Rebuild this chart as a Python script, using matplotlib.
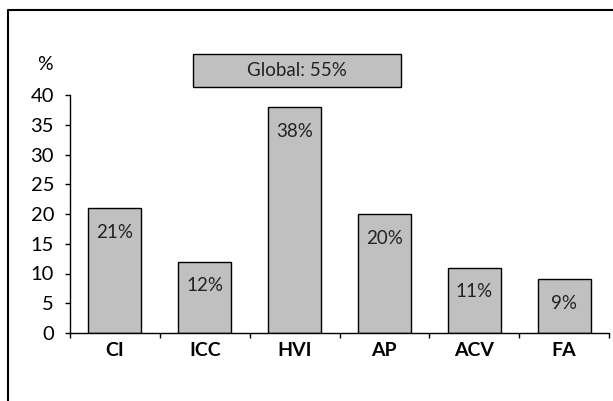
import matplotlib.pyplot as plt
import numpy as np
from matplotlib.lines import Line2D
from matplotlib.patches import Rectangle

# data
categories = ["CI", "ICC", "HVI", "AP", "ACV", "FA"]
values = [21, 12, 38, 20, 11, 9]
global_label = "Global: 55%"

plt.rcParams['font.family'] = ['Lato', 'DejaVu Sans']

fig = plt.figure(figsize=(6.13, 4.01), dpi=100)
ax = fig.add_axes([70/613, 1 - 333/401, 539/613, 238/401])

x = np.arange(len(categories))
ax.bar(x, values, width=0.59, color="#c0c0c0", edgecolor="black", linewidth=1)

for xi, v in zip(x, values):
    ax.annotate(f"{v}%", (xi, v), xytext=(0, -17.5), textcoords="offset points",
                ha="center", va="center", fontsize=13.5, color="#222222")

ax.set_xlim(-0.5, len(categories) - 0.5)
ax.set_ylim(0, 40)
ax.set_yticks(range(0, 41, 5))
ax.tick_params(axis="y", labelsize=14.5, length=3.5, width=1, direction="out", pad=8)

# x ticks at category boundaries, labels centred under bars
ax.set_xticks(np.arange(-0.5, len(categories)))
ax.set_xticklabels([])
ax.tick_params(axis="x", length=3.5, width=1, direction="out")
for xi, c in zip(x, categories):
    ax.text(xi, -0.075, c, transform=ax.get_xaxis_transform(), ha="center", va="center",
            fontsize=14, fontweight="bold")

for s in ["top", "right"]:
    ax.spines[s].set_visible(False)
for s in ["left", "bottom"]:
    ax.spines[s].set_linewidth(1)

fig.text(45/613, 1 - 64/401, "%", ha="center", va="center", fontsize=14)

# global box
fig.patches.append(Rectangle((193/613, 1 - 87/401), 208/613, 33/401, transform=fig.transFigure,
                             facecolor="#c0c0c0", edgecolor="black", linewidth=1, zorder=0))
fig.text(297/613, 1 - 71/401, global_label, ha="center", va="center", fontsize=13.5,
         color="#222222")

# outer frame (left and top)
fig.add_artist(Line2D([8/613, 8/613, 1], [0, 1 - 10/401, 1 - 10/401], transform=fig.transFigure,
                      color="black", linewidth=1.5))

fig.savefig("out.png", dpi=100)
